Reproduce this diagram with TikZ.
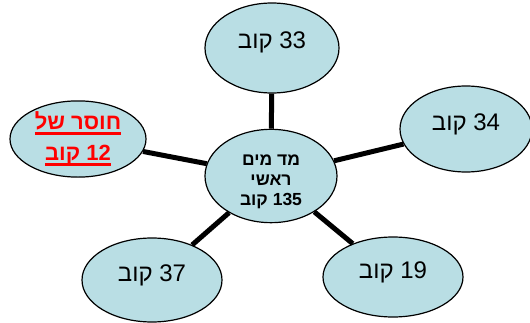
\documentclass[tikz,border=0pt]{standalone}
\usepackage{fontspec}
\setmainfont{Liberation Sans}
\newfontfamily\hebfont[Script=Hebrew]{Liberation Sans}
\TeXXeTstate=1
\usetikzlibrary{shapes.geometric}
\definecolor{cellblue}{RGB}{185,222,228}
\newcommand\redbar[1]{\setbox0\hbox{#1}\rlap{\rule[-5pt]{\wd0}{2.5pt}}\box0}

\begin{document}
\begin{tikzpicture}[x=1pt, y=1pt, line width=5pt,
                    main node/.style={ellipse,draw,fill=cellblue,line width=1.2pt,inner sep=0pt},
                    side node/.style={main node,font=\hebfont\fontsize{24}{28}\selectfont,
                                      text height=17pt,text depth=15pt}]

  \useasboundingbox (0,0) rectangle (530,322);

  \node[main node, minimum width=132pt, minimum height=78pt, align=center,
        text height=62pt, text depth=4pt,
        font=\hebfont\bfseries\fontsize{17.5}{20}\selectfont] (0) at (271,146)
        {\beginR מד מים\endR\\ \beginR ראשי\endR\\ \beginR\beginL 135\endL{} קוב\endR};
  \node[side node, minimum width=134pt, minimum height=90pt] (1) at (272,274)
        {\beginR\beginL 33\endL{} קוב\endR};
  \node[side node, minimum width=132pt, minimum height=86pt] (2) at (466,193)
        {\beginR\beginL 34\endL{} קוב\endR};
  \node[side node, minimum width=140pt, minimum height=80pt] (3) at (393,45)
        {\beginR\beginL 19\endL{} קוב\endR};
  \node[side node, minimum width=140pt, minimum height=84pt] (4) at (152,42)
        {\beginR\beginL 37\endL{} קוב\endR};
  \node[main node, minimum width=136pt, minimum height=72pt, align=center, text=red,
        font=\hebfont\bfseries\fontsize{22}{31}\selectfont] (5) at (78,183)
        {\redbar{\beginR חוסר של\endR}\\ \redbar{\beginR\beginL 12\endL{} קוב\endR}};

  \path (0) edge (1)
            edge (2)
            edge (3)
            edge (4)
            edge (5);
\end{tikzpicture}
\end{document}
